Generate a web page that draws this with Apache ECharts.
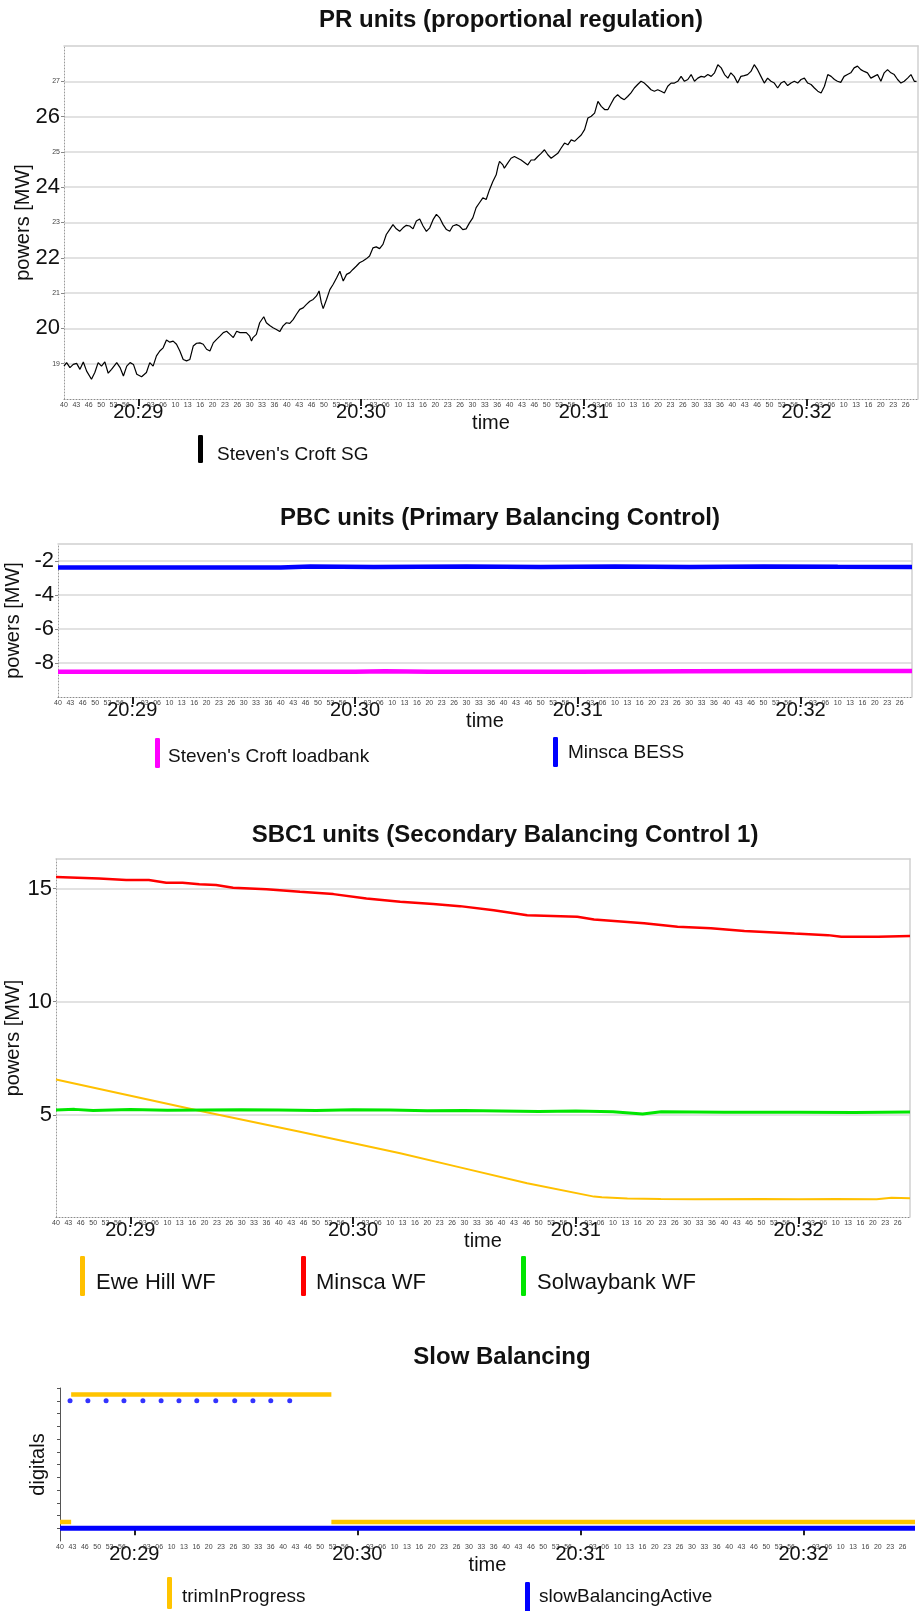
<!DOCTYPE html>
<html>
<head>
<meta charset="utf-8">
<title>Balancing powers</title>
<script src="https://cdn.jsdelivr.net/npm/echarts/dist/echarts.min.js"></script>
<style>
  html, body { margin: 0; padding: 0; background: #fff; }
  #chart { width: 922px; height: 1611px; }
</style>
</head>
<body>
<div id="chart"></div>
<script>
// time values are seconds after 20:28:00
const minuteTicks = [60, 120, 180, 240];
const minuteLabels = ["20:29", "20:30", "20:31", "20:32"];
const secondMarks = [0, 3.33, 6.67, 10, 13.33, 16.67, 20, 23.33, 26.67, 30, 33.33, 36.67, 40, 43.33, 46.67, 50, 53.33, 56.67];

// PR units
const prYLabels = [19, 20, 21, 22, 23, 24, 25, 26, 27];
const stevensCroftSG = [
  [40.0,18.93],[40.7,19.03],[41.6,18.89],[42.5,18.98],[43.4,19.01],[44.3,18.84],[45.2,19.05],[46.1,18.79],[47.4,18.56],[48.3,18.75],
  [49.2,19.03],[50.1,18.93],[51.0,19.05],[51.9,18.73],[52.8,18.84],[54.2,19.03],[55.1,18.89],[56.0,18.65],[56.9,18.93],[57.8,19.03],
  [58.7,18.98],[59.6,18.70],[60.9,18.63],[62.2,18.75],[63.1,19.03],[64.0,18.93],[64.9,19.22],[65.8,19.36],[66.7,19.45],[67.6,19.67],
  [68.5,19.61],[69.4,19.64],[70.3,19.55],[71.2,19.36],[72.1,19.12],[73.0,19.08],[73.9,19.12],[74.8,19.50],[75.7,19.58],[76.6,19.59],
  [77.5,19.55],[78.4,19.41],[79.3,19.36],[80.2,19.59],[81.1,19.69],[82.0,19.78],[82.9,19.88],[83.8,19.92],[84.7,19.83],[85.6,19.74],
  [86.5,19.92],[87.4,19.88],[88.3,19.88],[89.1,19.88],[90.0,19.78],[90.5,19.64],[90.9,19.74],[91.8,19.83],[92.7,20.16],[93.8,20.33],
  [94.5,20.16],[95.4,20.08],[96.3,20.02],[97.2,19.97],[98.1,19.91],[99.0,20.07],[99.9,20.16],[100.8,20.14],[101.7,20.25],[102.6,20.40],
  [103.5,20.54],[104.4,20.58],[105.3,20.68],[106.2,20.77],[107.1,20.82],[108.0,20.92],[108.7,21.06],[109.3,20.73],[109.8,20.56],[110.7,20.82],
  [111.6,21.10],[112.5,21.25],[113.4,21.43],[114.3,21.62],[115.2,21.34],[116.1,21.53],[117.0,21.58],[117.8,21.67],[118.7,21.76],[119.6,21.86],
  [120.5,21.91],[121.4,21.97],[122.3,22.05],[123.2,22.28],[124.1,22.31],[125.0,22.26],[125.9,22.38],[126.8,22.66],[127.7,22.80],[128.6,22.94],
  [129.5,22.82],[130.4,22.75],[131.3,22.85],[132.2,22.92],[133.1,22.90],[134.0,22.82],[134.9,23.04],[135.8,23.10],[136.7,22.90],[137.6,22.75],
  [138.5,22.85],[139.4,23.08],[140.3,23.23],[141.2,23.13],[142.1,22.94],[143.0,22.80],[143.9,22.75],[144.7,22.90],[145.7,22.94],[146.5,22.90],
  [147.4,22.80],[148.3,22.82],[149.2,22.99],[150.1,23.13],[151.0,23.42],[151.9,23.56],[152.8,23.70],[153.7,23.65],[154.6,23.93],
  [155.5,24.16],[156.4,24.35],[156.9,24.59],[157.3,24.73],[158.2,24.63],[158.6,24.54],[159.5,24.68],[160.4,24.82],[161.3,24.87],[162.2,24.82],
  [163.1,24.77],[164.0,24.70],[164.9,24.63],[165.8,24.77],[166.7,24.77],[167.6,24.87],[168.5,24.96],[169.4,25.06],[170.3,24.92],[171.2,24.82],
  [172.1,24.89],[173.0,24.96],[173.9,25.11],[174.8,25.25],[175.7,25.20],[176.6,25.34],[177.5,25.30],[178.4,25.39],[179.3,25.48],[180.2,25.63],
  [181.1,25.96],[182.0,26.01],[182.9,26.10],[183.8,26.43],[184.7,26.29],[185.6,26.20],[186.5,26.20],[187.4,26.38],[188.2,26.53],[189.1,26.62],
  [190.0,26.53],[190.9,26.48],[191.8,26.57],[192.7,26.67],[193.6,26.81],[194.5,26.91],[195.4,27.00],[196.3,26.95],[197.2,26.86],[198.1,26.76],
  [199.0,26.72],[199.9,26.76],[200.8,26.72],[201.7,26.67],[202.6,26.86],[203.5,26.95],[204.4,26.95],[205.3,27.00],[206.2,27.14],[207.1,27.00],
  [208.0,27.05],[208.9,27.19],[209.8,27.00],[210.7,27.09],[211.6,27.14],[212.5,27.12],[213.4,27.19],[214.3,27.14],[215.2,27.24],[216.1,27.47],
  [217.0,27.38],[217.9,27.19],[218.8,27.09],[219.6,27.24],[220.5,27.14],[221.4,26.95],[222.3,27.14],[223.2,27.16],[224.1,27.19],[225.0,27.28],
  [225.9,27.47],[226.8,27.33],[227.7,27.14],[228.6,26.95],[229.5,27.09],[230.4,27.00],[231.3,26.95],[232.2,26.81],[233.1,26.95],[234.0,27.00],
  [234.9,26.88],[235.8,26.95],[236.7,27.00],[237.6,26.95],[238.5,27.05],[239.4,27.09],[240.3,26.95],[241.2,26.91],[242.1,26.81],[243.0,26.72],
  [243.9,26.67],[244.8,26.86],[245.7,27.19],[246.6,27.14],[247.5,27.05],[248.3,27.00],[249.2,26.97],[250.1,27.14],[251.0,27.19],[251.9,27.24],
  [252.8,27.38],[253.7,27.43],[254.6,27.33],[255.5,27.28],[256.4,27.24],[257.3,27.09],[258.2,27.14],[259.1,27.19],[260.0,27.00],[260.9,27.24],
  [261.8,27.33],[262.7,27.24],[263.6,27.19],[264.5,27.05],[265.4,26.95],[266.3,27.00],[267.2,27.09],[268.1,27.19],[269.0,27.00],[269.6,27.00]
];

// PBC units
const pbcYLabels = [-8, -6, -4, -2];
const stevensCroftLoadbank = [[40,-8.52],[80,-8.52],[120,-8.51],[128,-8.48],[140,-8.51],[180,-8.51],[210,-8.49],[240,-8.47],[270,-8.47]];
const minscaBESS = [[40,-2.38],[100,-2.38],[108,-2.33],[125,-2.36],[150,-2.33],[170,-2.35],[190,-2.33],[210,-2.36],[230,-2.32],[250,-2.34],[270,-2.35]];

// SBC1 units
const sbcYLabels = [5, 10, 15];
const eweHillWF = [[40,6.57],[78.6,5.19],[105.7,4.26],[132.7,3.31],[148.8,2.69],[166.9,1.99],[184.9,1.40],[187,1.37],[193.9,1.32],[202.9,1.29],[211.9,1.28],[230,1.29],[240,1.28],[250,1.29],[261,1.28],[265,1.35],[270,1.33]];
const minscaWF = [[40,15.51],[51.6,15.44],[58.9,15.37],[65,15.37],[69.7,15.25],[74.1,15.25],[78.6,15.19],[83.1,15.15],[87.7,15.03],[96.7,14.97],[105.7,14.85],[114.7,14.75],[123.6,14.56],[132.7,14.41],[141.6,14.31],[148.8,14.22],[157.9,14.04],[166.9,13.82],[180.4,13.75],[184.9,13.63],[198.4,13.46],[207.4,13.31],[216.4,13.24],[225.4,13.12],[238.9,13.01],[247.9,12.94],[251.5,12.87],[261.4,12.87],[270,12.90]];
const solwaybankWF = [[40,5.22],[45,5.25],[50,5.20],[60,5.24],[70,5.21],[80,5.22],[90,5.23],[100,5.22],[110,5.20],[120,5.23],[130,5.22],[140,5.19],[150,5.20],[160,5.18],[170,5.16],[180,5.18],[190,5.15],[198,5.05],[203,5.14],[220,5.12],[240,5.12],[255,5.11],[270,5.13]];

// Slow Balancing (digitals)
const digitalTicks = [0, 0.1, 0.2, 0.3, 0.4, 0.5, 0.6, 0.7, 0.8, 0.9, 1.0, 1.1];
const trimInProgress = [[40,0],[43,0],[43,"-"],[43,1],[113,1],[113,"-"],[113,0],[270,0]];
const slowBalancingActive = [[40,0],[270,0]];
const slowBalancingPulses = [[42.7,1],[47.5,1],[52.4,1],[57.2,1],[62.3,1],[67.2,1],[72.0,1],[76.8,1],[81.9,1],[87.0,1],[91.9,1],[96.7,1],[101.8,1]];

const FONT = "'Liberation Sans', Arial, Helvetica, sans-serif";

const timeLabelValues = [];
[0, 60, 120, 180, 240].forEach(function (m) {
  secondMarks.forEach(function (s) {
    const v = +(m + s).toFixed(2);
    if (v >= 40 && v < 268) timeLabelValues.push(v);
  });
});

function timeLabel(v) {
  const i = minuteTicks.indexOf(Math.round(v * 100) / 100);
  if (i >= 0) return "{m|" + minuteLabels[i] + "}";
  return "{s|" + String(Math.floor((v % 60) + 0.001)).padStart(2, "0") + "}";
}

function timeAxis(gridIndex) {
  return {
    type: "value",
    gridIndex: gridIndex,
    min: 40,
    max: 270,
    axisLine: { show: true, lineStyle: { color: "#8a8a8a", type: [1, 2], width: 1 } },
    axisTick: { show: true, customValues: minuteTicks, length: 7, lineStyle: { color: "#222", width: 2 } },
    axisLabel: {
      customValues: timeLabelValues,
      margin: 3,
      formatter: timeLabel,
      rich: {
        s: { fontSize: 7, color: "#444", fontFamily: FONT },
        m: { fontSize: 20, color: "#111", fontFamily: FONT }
      }
    },
    splitLine: { show: false },
    name: "time",
    nameLocation: "middle",
    nameGap: 14,
    nameMoveOverlap: false,
    nameTextStyle: { fontSize: 20, color: "#111", fontFamily: FONT, verticalAlign: "top" }
  };
}

function frameXAxis(gridIndex) {
  return {
    type: "value", gridIndex: gridIndex, position: "top", min: 40, max: 270,
    axisLine: { show: true, lineStyle: { color: "#d0d0d0", width: 1.5 } },
    axisTick: { show: false }, axisLabel: { show: false }, splitLine: { show: false }
  };
}

function frameYAxis(gridIndex) {
  return {
    type: "value", gridIndex: gridIndex, position: "right", min: 0, max: 1,
    axisLine: { show: true, lineStyle: { color: "#d0d0d0", width: 1.5 } },
    axisTick: { show: false }, axisLabel: { show: false }, splitLine: { show: false }
  };
}

function powerAxis(gridIndex, min, max, labels, formatter, nameGap) {
  return {
    type: "value",
    gridIndex: gridIndex,
    min: min,
    max: max,
    axisLine: { show: true, lineStyle: { color: "#9a9a9a", type: [1, 2], width: 1 } },
    axisTick: { show: true, customValues: labels, length: 3, lineStyle: { color: "#888" } },
    axisLabel: {
      customValues: labels,
      margin: 4,
      formatter: formatter,
      fontSize: 22,
      color: "#111",
      fontFamily: FONT,
      rich: {
        b: { fontSize: 22, color: "#111", fontFamily: FONT },
        s: { fontSize: 7, color: "#444", fontFamily: FONT }
      }
    },
    splitLine: { show: true, lineStyle: { color: "#d9d9d9", width: 1.5 } },
    name: "powers [MW]",
    nameLocation: "middle",
    nameGap: nameGap,
    nameMoveOverlap: false,
    nameTextStyle: { fontSize: 20, color: "#111", fontFamily: FONT }
  };
}

function legendItem(name, left, top, size, height, padTop, padLeft) {
  return {
    data: [name],
    left: left,
    top: top,
    icon: "roundRect",
    itemWidth: 5,
    itemHeight: height,
    itemGap: 0,
    selectedMode: false,
    formatter: "{t|{name}}",
    textStyle: {
      color: "#111",
      rich: { t: { fontSize: size, color: "#111", fontFamily: FONT, padding: [padTop, 0, 0, padLeft] } }
    }
  };
}

function lineSeries(name, data, xIdx, yIdx, color, width) {
  return {
    type: "line",
    name: name,
    xAxisIndex: xIdx,
    yAxisIndex: yIdx,
    data: data,
    showSymbol: false,
    symbol: "none",
    connectNulls: false,
    lineStyle: { color: color, width: width },
    itemStyle: { color: color }
  };
}

function titleText(text, x, y) {
  return {
    type: "text",
    x: x,
    y: y,
    style: { text: text, font: "bold 24px " + FONT, fill: "#111", textAlign: "center", textVerticalAlign: "middle" }
  };
}

const chart = echarts.init(document.getElementById("chart"), null, { renderer: "canvas" });

const option = {
  animation: false,
  backgroundColor: "#fff",
  textStyle: { fontFamily: FONT },
  graphic: [
    titleText("PR units (proportional regulation)", 511, 20),
    titleText("PBC units (Primary Balancing Control)", 500, 518),
    titleText("SBC1 units (Secondary Balancing Control 1)", 505, 835),
    titleText("Slow Balancing", 502, 1357)
  ],
  grid: [
    { left: 64, right: 4, top: 46, height: 353, outerBoundsMode: "none" },
    { left: 58, right: 10, top: 544, height: 153, outerBoundsMode: "none" },
    { left: 56, right: 12, top: 859, height: 358, outerBoundsMode: "none" },
    { left: 60, right: 7, top: 1388, height: 153, outerBoundsMode: "none" }
  ],
  legend: [
    legendItem("Steven's Croft SG", 193, 430, 19, 28, 12, 9),
    legendItem("Steven's Croft loadbank", 150, 733, 19, 30, 8, 3),
    legendItem("Minsca BESS", 548, 732, 19, 30, 2, 5),
    legendItem("Ewe Hill WF", 75, 1251, 22, 40, 14, 6),
    legendItem("Minsca WF", 296, 1251, 22, 40, 14, 5),
    legendItem("Solwaybank WF", 516, 1251, 22, 40, 14, 6),
    legendItem("trimInProgress", 162, 1572, 19, 32, 8, 5),
    legendItem("slowBalancingActive", 520, 1577, 19, 30, 0, 4)
  ],
  xAxis: [
    timeAxis(0), timeAxis(1), timeAxis(2), timeAxis(3),
    frameXAxis(0), frameXAxis(1), frameXAxis(2)
  ],
  yAxis: [
    powerAxis(0, 18, 28, prYLabels, function (v) { return v % 2 === 0 ? "{b|" + v + "}" : "{s|" + v + "}"; }, 31),
    frameYAxis(0),
    powerAxis(1, -10, -1, pbcYLabels, function (v) { return "{b|" + v + "}"; }, 35),
    frameYAxis(1),
    powerAxis(2, 0.5, 16.3, sbcYLabels, function (v) { return "{b|" + v + "}"; }, 33),
    frameYAxis(2),
    {
      type: "value", gridIndex: 3, min: -0.1, max: 1.1,
      axisLine: { show: true, lineStyle: { color: "#555", width: 1 } },
      axisTick: { show: true, customValues: digitalTicks, length: 3, lineStyle: { color: "#555" } },
      axisLabel: { show: false },
      splitLine: { show: false },
      name: "digitals", nameLocation: "middle", nameGap: 12, nameMoveOverlap: false,
      nameTextStyle: { fontSize: 20, color: "#111", fontFamily: FONT }
    },
    { type: "value", gridIndex: 3, min: -0.15, max: 1.05, show: false }
  ],
  series: [
    lineSeries("Steven's Croft SG", stevensCroftSG, 0, 0, "#000", 1.2),
    lineSeries("Steven's Croft loadbank", stevensCroftLoadbank, 1, 2, "#ff00ff", 4.5),
    lineSeries("Minsca BESS", minscaBESS, 1, 2, "#0000ff", 4.5),
    lineSeries("Ewe Hill WF", eweHillWF, 2, 4, "#ffc000", 2),
    lineSeries("Minsca WF", minscaWF, 2, 4, "#ff0000", 2.5),
    lineSeries("Solwaybank WF", solwaybankWF, 2, 4, "#00e600", 3),
    lineSeries("trimInProgress", trimInProgress, 3, 7, "#ffc400", 4.5),
    lineSeries("slowBalancingActive", slowBalancingActive, 3, 6, "#0000ff", 5),
    {
      type: "scatter",
      name: "slowBalancingActive",
      xAxisIndex: 3,
      yAxisIndex: 6,
      data: slowBalancingPulses,
      symbol: "circle",
      symbolSize: 5,
      itemStyle: { color: "#0000ff" }
    }
  ]
};

chart.setOption(option);
</script>
</body>
</html>
